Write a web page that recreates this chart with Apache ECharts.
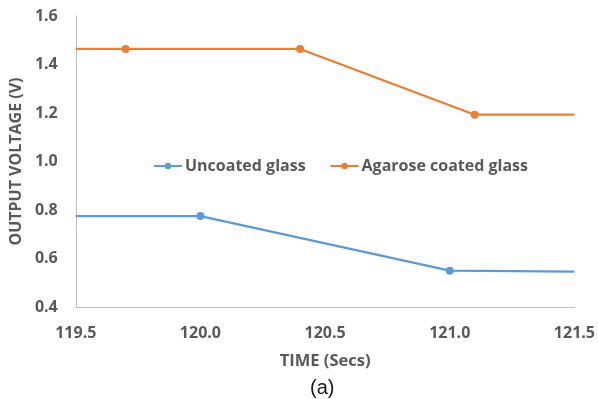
<!DOCTYPE html>
<html>
<head>
<meta charset="utf-8">
<script src="https://cdn.jsdelivr.net/npm/echarts@6/dist/echarts.min.js"></script>
<style>
  html, body { margin: 0; padding: 0; background: #fff; }
  #chart { width: 598px; height: 399px; }
</style>
</head>
<body>
<div id="chart"></div>
<script>
// data
const uncoatedTime = [119.5, 120.0, 121.0, 121.5]
const uncoatedVolt = [0.775, 0.775, 0.55, 0.546]
const uncoatedMarked = [false, true, true, false]

const agaroseTime = [119.5, 119.7, 120.4, 121.1, 121.5]
const agaroseVolt = [1.464, 1.464, 1.464, 1.193, 1.193]
const agaroseMarked = [false, true, true, true, false]

const textGray = '#595959'
const font = 'Open Sans'

function pairs(xs, ys, marked) {
  return xs.map((x, i) => ({
    value: [x, ys[i]],
    symbolSize: marked[i] ? 8 : 0
  }))
}

const chart = echarts.init(document.getElementById('chart'))

chart.setOption({
  backgroundColor: '#fff',
  animation: false,
  textStyle: { fontFamily: font },
  grid: { left: 73, right: 22, top: 16, bottom: 92 },
  legend: {
    left: 148,
    top: 153,
    itemWidth: 28,
    itemHeight: 8,
    itemGap: 24,
    textStyle: { color: textGray, fontSize: 16, fontWeight: 'bold', fontFamily: font, padding: [0, 0, 0, -2] },
    data: ['Uncoated glass', 'Agarose coated glass']
  },
  xAxis: {
    type: 'value',
    min: 119.5,
    max: 121.5,
    interval: 0.5,
    name: 'TIME (Secs)',
    nameLocation: 'middle',
    nameGap: 46,
    nameTextStyle: { color: textGray, fontSize: 16.5, fontWeight: 'bold' },
    axisLine: { lineStyle: { color: '#bfbfbf', width: 1 } },
    axisTick: { show: false },
    splitLine: { show: false },
    axisLabel: {
      color: textGray, fontSize: 16, fontWeight: 'bold', margin: 18,
      formatter: v => v.toFixed(1)
    }
  },
  yAxis: {
    type: 'value',
    min: 0.4,
    max: 1.6,
    interval: 0.2,
    name: 'OUTPUT VOLTAGE (V)',
    nameLocation: 'middle',
    nameGap: 46,
    nameTextStyle: { color: textGray, fontSize: 16, fontWeight: 'bold' },
    axisLine: { show: true, lineStyle: { color: '#bfbfbf', width: 1 } },
    axisTick: { show: false },
    splitLine: { show: false },
    axisLabel: {
      color: textGray, fontSize: 16, fontWeight: 'bold', margin: 18,
      formatter: v => v.toFixed(1)
    }
  },
  graphic: [{
    type: 'text',
    left: 310,
    top: 378,
    style: { text: '(a)', fill: '#1a1a1a', font: '20px "Liberation Sans", Arial, sans-serif' }
  }],
  series: [
    {
      name: 'Uncoated glass',
      type: 'line',
      symbol: 'circle',
      color: '#5B9BD5',
      lineStyle: { width: 2.25 },
      data: pairs(uncoatedTime, uncoatedVolt, uncoatedMarked)
    },
    {
      name: 'Agarose coated glass',
      type: 'line',
      symbol: 'circle',
      color: '#ED7D31',
      lineStyle: { width: 2.25 },
      data: pairs(agaroseTime, agaroseVolt, agaroseMarked)
    }
  ]
})
</script>
</body>
</html>
